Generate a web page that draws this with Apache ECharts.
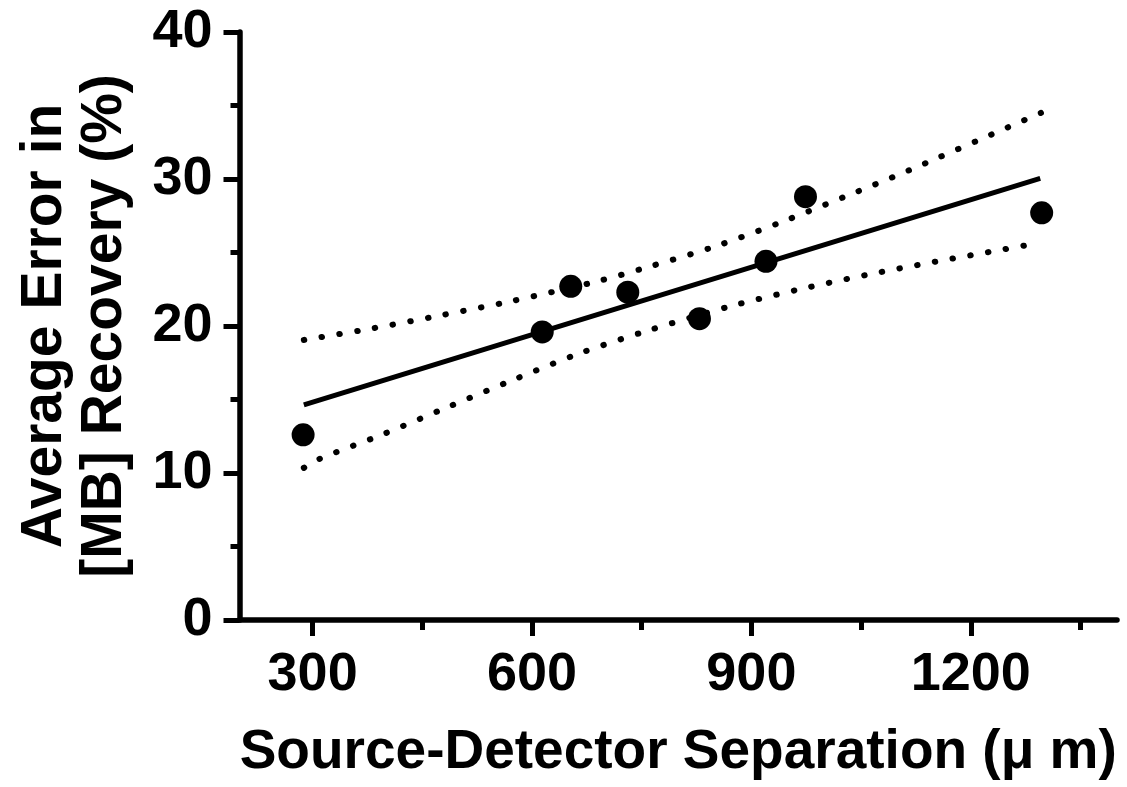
<!DOCTYPE html>
<html>
<head>
<meta charset="utf-8">
<script src="https://cdn.jsdelivr.net/npm/echarts@6/dist/echarts.min.js"></script>
<style>
html,body{margin:0;padding:0;background:#fff;}
#c{width:1127px;height:787px;}
</style>
</head>
<body>
<div id="c"></div>
<script>
// Measured points: source-detector separation (µm) vs average error (%)
const sepX = [287, 614, 653, 731, 829, 920, 974, 1297];
const errY = [12.6, 19.6, 22.7, 22.3, 20.5, 24.4, 28.8, 27.7];
// Linear fit line (endpoints)
const fitX = [288, 1295];
const fitY = [14.63, 30.05];
// Upper confidence band
const upX = [288, 382, 476, 571, 687, 757, 849, 939, 1028, 1116, 1296];
const upY = [19.05, 19.84, 20.73, 21.68, 23.01, 23.99, 25.39, 27.03, 28.8, 30.6, 34.5];
// Lower confidence band
const loX = [288, 309, 397, 486, 574, 663, 754, 869, 962, 1057, 1151, 1246, 1295];
const loY = [10.35, 10.95, 12.65, 14.51, 16.33, 18.1, 19.62, 21.31, 22.45, 23.47, 24.37, 25.22, 25.67];
// Axis ticks
const xMajorTicks = [300, 600, 900, 1200];
const xMinorTicks = [450, 750, 1050, 1350];

const pairs = (xs, ys) => xs.map((x, i) => [x, ys[i]]);
const FONT = 'Liberation Sans';
const chart = echarts.init(document.getElementById('c'), null, {renderer: 'canvas'});
const dotted = {color: '#000', width: 6, type: [0.5, 17.5], cap: 'round'};
const tickStyle = {color: '#000', width: 5};

chart.setOption({
  animation: false,
  backgroundColor: '#fff',
  grid: {left: 239.5, right: 10, top: 32, bottom: 167, containLabel: false},
  xAxis: [{
    type: 'value', min: 200, max: 1400, position: 'bottom',
    splitLine: {show: false},
    axisLine: {show: true, onZero: false, lineStyle: {color: '#000', width: 5.5}},
    axisTick: {show: true, customValues: xMajorTicks, length: 16, lineStyle: tickStyle},
    axisLabel: {show: true, customValues: xMajorTicks, margin: 28, color: '#000',
      fontFamily: FONT, fontWeight: 'bold', fontSize: 54, formatter: v => String(v)},
    name: 'Source-Detector Separation (μ m)',
    nameLocation: 'middle', nameGap: 105,
    nameTextStyle: {color: '#000', fontFamily: FONT, fontWeight: 'bold', fontSize: 55}
  }, {
    type: 'value', min: 200, max: 1400, position: 'bottom',
    splitLine: {show: false},
    axisLine: {show: false, onZero: false},
    axisTick: {show: true, customValues: xMinorTicks, length: 10, lineStyle: tickStyle},
    axisLabel: {show: false}
  }],
  yAxis: {
    type: 'value', min: 0, max: 40, interval: 10,
    splitLine: {show: false},
    axisLine: {show: true, onZero: false, lineStyle: {color: '#000', width: 5.5}},
    axisTick: {show: true, length: 16, lineStyle: tickStyle},
    minorTick: {show: true, splitNumber: 2, length: 9, lineStyle: tickStyle},
    axisLabel: {margin: 27, color: '#000', fontFamily: FONT, fontWeight: 'bold', fontSize: 54},
    name: 'Average Error in\n[MB] Recovery (%)',
    nameLocation: 'middle', nameRotate: 90, nameGap: 104,
    nameTextStyle: {color: '#000', fontFamily: FONT, fontWeight: 'bold', fontSize: 57, lineHeight: 60}
  },
  series: [
    {type: 'line', data: pairs(upX, upY), smooth: 0.3, showSymbol: false, symbol: 'none',
      lineStyle: dotted, z: 2},
    {type: 'line', data: pairs(loX, loY), smooth: 0.3, showSymbol: false, symbol: 'none',
      lineStyle: dotted, z: 2},
    {type: 'line', data: pairs(fitX, fitY), showSymbol: false, symbol: 'none',
      lineStyle: {color: '#000', width: 5}, z: 3},
    {type: 'scatter', data: pairs(sepX, errY), symbol: 'circle', symbolSize: 23,
      itemStyle: {color: '#000', opacity: 1}, z: 4}
  ]
});
</script>
</body>
</html>
